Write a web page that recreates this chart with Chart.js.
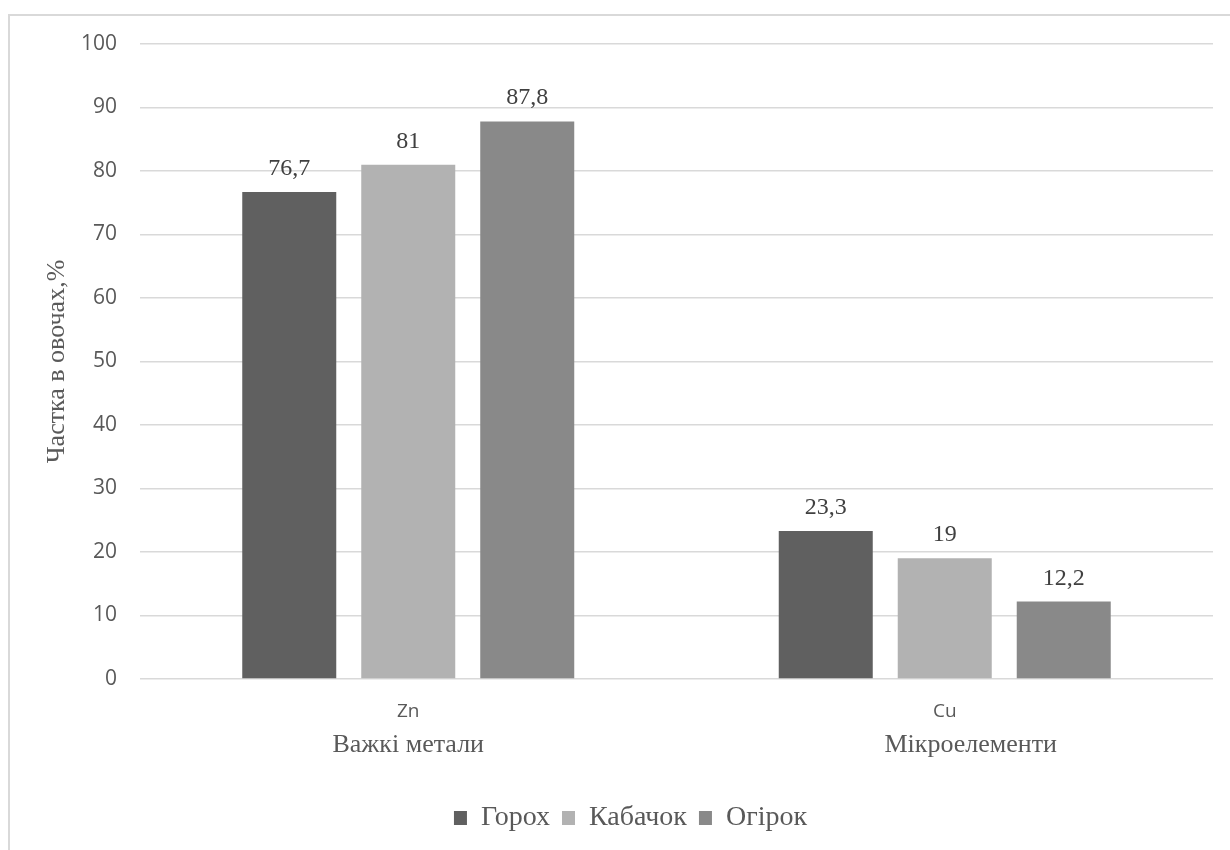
<!DOCTYPE html>
<html lang="uk">
<head>
<meta charset="utf-8">
<title>Частка в овочах</title>
<script src="https://cdn.jsdelivr.net/npm/chart.js@4.4.1/dist/chart.umd.min.js"></script>
<style>
  html, body { margin: 0; padding: 0; background: #ffffff; }
  #wrap { position: relative; width: 1230px; height: 850px; overflow: hidden; }
  #frame {
    position: absolute; left: 8px; top: 14px; width: 1300px; height: 900px;
    border-left: 2px solid #d9d9d9; border-top: 2px solid #d9d9d9;
  }
  #chart { position: absolute; left: 0; top: 0; }
</style>
</head>
<body>
<div id="wrap">
  <div id="frame"></div>
  <canvas id="chart" width="1230" height="850"></canvas>
</div>
<script>
// Елементи та групи
const elements = ['Zn', 'Cu'];
const groups = ['Важкі метали', '        Мікроелементи'];

// Частка в овочах, %
const goroh = [76.7, 23.3];
const kabachok = [81, 19];
const ogirok = [87.8, 12.2];

const seriesNames = ['Горох', 'Кабачок', 'Огірок'];
const seriesColors = ['#606060', '#b2b2b2', '#898989'];

const yTicks = [0, 10, 20, 30, 40, 50, 60, 70, 80, 90, 100];

const serif = '"Liberation Serif", "Times New Roman", serif';
const sans = '"Open Sans", "Noto Sans", sans-serif';

// Підписи значень над стовпцями (кома як десятковий роздільник)
const valueLabels = {
  id: 'valueLabels',
  afterDatasetsDraw(chart) {
    const ctx = chart.ctx;
    ctx.save();
    ctx.font = '24px ' + serif;
    ctx.fillStyle = '#404040';
    ctx.textAlign = 'center';
    ctx.textBaseline = 'alphabetic';
    chart.data.datasets.forEach((ds, i) => {
      chart.getDatasetMeta(i).data.forEach((bar, j) => {
        const txt = String(ds.data[j]).replace('.', ',');
        ctx.fillText(txt, bar.x, bar.y - 17);
      });
    });
    ctx.restore();
  }
};

// Легенда трохи правіше від центру полотна
const legendShift = {
  id: 'legendShift',
  afterLayout(chart) {
    if (chart.legend) {
      chart.legend.left += 24;
      chart.legend.right += 24;
    }
  }
};

new Chart(document.getElementById('chart'), {
  type: 'bar',
  data: {
    labels: elements,
    datasets: [
      { label: seriesNames[0], data: goroh, backgroundColor: seriesColors[0], borderWidth: 0 },
      { label: seriesNames[1], data: kabachok, backgroundColor: seriesColors[1], borderWidth: 0 },
      { label: seriesNames[2], data: ogirok, backgroundColor: seriesColors[2], borderWidth: 0 }
    ]
  },
  options: {
    responsive: false,
    animation: false,
    devicePixelRatio: 1,
    categoryPercentage: 0.6654,
    barPercentage: 0.79,
    layout: { padding: { left: 0, top: 44, right: 17, bottom: 8 } },
    scales: {
      x: {
        type: 'category',
        position: 'bottom',
        grid: { display: false },
        border: { display: false },
        ticks: { color: '#595959', font: { family: sans, size: 19 }, padding: 13 },
        afterFit(s) { s.height = 38; s.paddingLeft = 0; s.paddingRight = 0; }
      },
      xGroup: {
        type: 'category',
        position: 'bottom',
        labels: groups,
        grid: { display: false },
        border: { display: false },
        ticks: { color: '#595959', font: { family: serif, size: 26 }, padding: 5 },
        afterFit(s) { s.height = 75; s.paddingLeft = 0; s.paddingRight = 0; }
      },
      y: {
        min: 0,
        max: 100,
        afterBuildTicks(s) { s.ticks = yTicks.map(v => ({ value: v })); },
        grid: { color: '#d9d9d9', lineWidth: 1.5, drawTicks: false },
        border: { display: false },
        ticks: { color: '#595959', font: { family: sans, size: 21 }, padding: 23 },
        title: {
          display: true,
          text: 'Частка в овочах,%',
          color: '#595959',
          font: { family: serif, size: 26 },
          padding: { top: 42, bottom: 0 }
        },
        afterFit(s) { s.width = 140; s.paddingTop = 0; s.paddingBottom = 0; }
      }
    },
    plugins: {
      legend: {
        position: 'bottom',
        labels: {
          color: '#595959',
          font: { family: serif, size: 28 },
          boxWidth: 13,
          boxHeight: 14,
          padding: 12
        }
      },
      tooltip: { enabled: false }
    }
  },
  plugins: [valueLabels, legendShift]
});
</script>
</body>
</html>
